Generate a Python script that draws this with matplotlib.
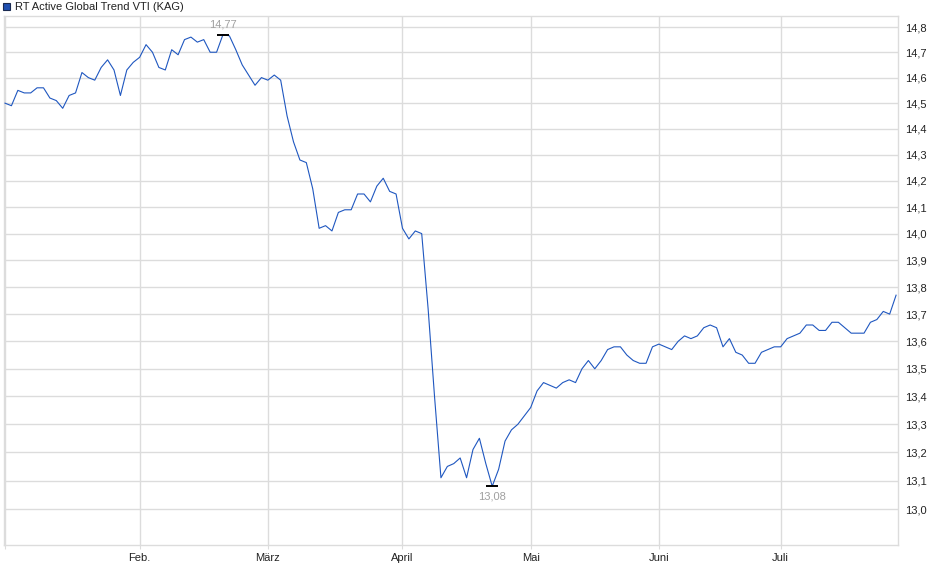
import numpy as np
import matplotlib
matplotlib.use("Agg")
import matplotlib.pyplot as plt
from matplotlib.patches import Rectangle
from matplotlib.ticker import FixedLocator, NullLocator

plt.rcParams['font.family'] = ['Liberation Sans', 'DejaVu Sans']

title = "RT Active Global Trend VTI (KAG)"

# daily prices per month
jan = [14.50, 14.49, 14.55, 14.54, 14.54, 14.56, 14.56, 14.52, 14.51, 14.48, 14.53,
       14.54, 14.62, 14.60, 14.59, 14.64, 14.67, 14.63, 14.53, 14.63, 14.66]
feb = [14.68, 14.73, 14.70, 14.64, 14.63, 14.71, 14.69, 14.75, 14.76, 14.74,
       14.75, 14.70, 14.70, 14.77, 14.765, 14.71, 14.65, 14.61, 14.57, 14.60]
mar = [14.59, 14.61, 14.59, 14.45, 14.35, 14.28, 14.27, 14.17, 14.02, 14.03, 14.01,
       14.08, 14.09, 14.09, 14.15, 14.15, 14.12, 14.18, 14.21, 14.16, 14.15]
apr = [14.02, 13.98, 14.01, 14.00, 13.72, 13.40, 13.11, 13.15, 13.16, 13.18,
       13.11, 13.21, 13.25, 13.16, 13.08, 13.14, 13.24, 13.28, 13.30, 13.33]
may = [13.36, 13.42, 13.45, 13.44, 13.43, 13.45, 13.46, 13.45, 13.50, 13.53,
       13.50, 13.53, 13.57, 13.58, 13.58, 13.55, 13.53, 13.52, 13.52, 13.58]
jun = [13.59, 13.58, 13.57, 13.60, 13.62, 13.61, 13.62, 13.65, 13.66, 13.65,
       13.58, 13.61, 13.56, 13.55, 13.52, 13.52, 13.56, 13.57, 13.58]
jul = [13.58, 13.61, 13.62, 13.63, 13.66, 13.66, 13.64, 13.64, 13.67, 13.67,
       13.65, 13.63, 13.63, 13.63, 13.67, 13.68, 13.71, 13.70, 13.77]

months = [jan, feb, mar, apr, may, jun, jul]
month_labels = ["", "Feb.", "März", "April", "Mai", "Juni", "Juli"]
y_ticks = [13.0, 13.1, 13.2, 13.3, 13.4, 13.5, 13.6, 13.7, 13.8, 13.9,
           14.0, 14.1, 14.2, 14.3, 14.4, 14.5, 14.6, 14.7, 14.8]

prices = np.concatenate(months)
idx = np.arange(len(prices))
month_starts = np.cumsum([0] + [len(m) for m in months[:-1]])

W, H = 940, 579
fig = plt.figure(figsize=(W / 100, H / 100), dpi=100)
ax = fig.add_axes([4 / W, (H - 545) / H, 894 / W, 529 / H])

grid_c = "#dcdcdc"
ax.set_yscale("log")
ax.plot(idx, prices, color="#1f57c0", lw=0.8, zorder=3)

ax.set_xlim(-0.16, len(prices) - 1 + 0.3)
ax.set_ylim(12.875, 14.844)

ax.yaxis.set_major_locator(FixedLocator(y_ticks))
ax.yaxis.set_minor_locator(NullLocator())
ax.set_yticklabels([f"{v:.1f}".replace(".", ",") for v in y_ticks])
ax.yaxis.tick_right()
ax.tick_params(axis="y", length=0, pad=5, labelsize=8, labelcolor="#222222")

ax.set_xticks(month_starts)
ax.set_xticklabels(month_labels)
ax.tick_params(axis="x", length=3, color=grid_c, pad=3, labelsize=8,
               labelcolor="#222222")

ax.grid(True, color=grid_c, lw=1)
ax.set_axisbelow(True)
for s in ax.spines.values():
    s.set_color(grid_c)
    s.set_linewidth(1)

# high / low markers
i_max = int(np.argmax(prices))
i_min = int(np.argmin(prices))
ax.plot(i_max, prices[i_max], marker="_", ms=9, mew=1.4, color="black", zorder=4)
ax.plot(i_min, prices[i_min], marker="_", ms=9, mew=1.4, color="black", zorder=4)
ax.annotate(f"{prices[i_max]:.2f}".replace(".", ","), (i_max, prices[i_max]),
            xytext=(0, 3.5), textcoords="offset points", ha="center", va="bottom",
            fontsize=8, color="#a0a0a0")
ax.annotate(f"{prices[i_min]:.2f}".replace(".", ","), (i_min, prices[i_min]),
            xytext=(0, -4), textcoords="offset points", ha="center", va="top",
            fontsize=8, color="#a0a0a0")

# legend box at top-left
fig.patches.append(Rectangle((3 / W, 1 - 9.5 / H), 6.5 / W, 6.5 / H,
                             transform=fig.transFigure, facecolor="#1f4fb0",
                             edgecolor="#1a2a50", lw=0.8))
fig.text(15 / W, 1 - 6.5 / H, title, fontsize=8, color="#222222", va="center")

fig.savefig("out.png", dpi=100)
